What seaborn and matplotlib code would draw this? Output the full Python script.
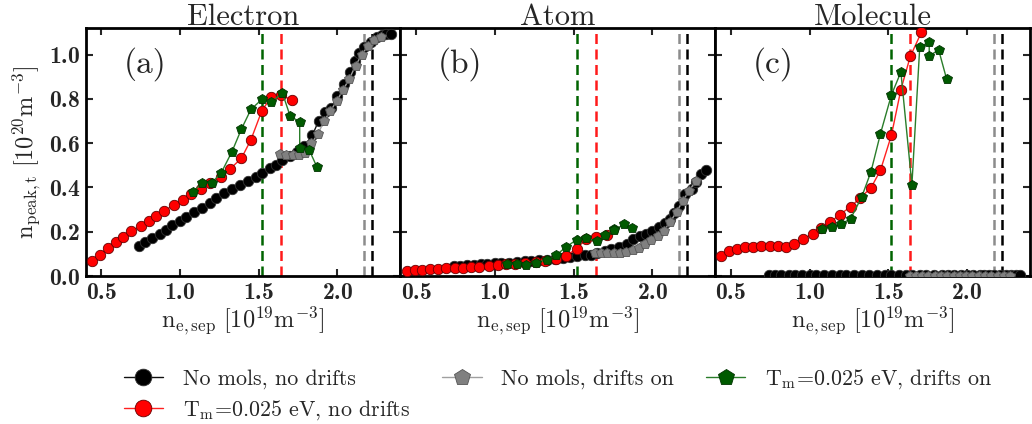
import matplotlib
matplotlib.use("Agg")
import matplotlib.pyplot as plt
import seaborn as sns

# ---- density scans: n_e,sep [1e19 m^-3] and peak target density [1e20 m^-3] ----
x_nomol_nodrift = [0.74, 0.78, 0.82, 0.87, 0.91, 0.95, 1.00, 1.04, 1.09, 1.14,
                   1.19, 1.23, 1.28, 1.33, 1.38, 1.43, 1.48, 1.52, 1.57, 1.61,
                   1.65, 1.70, 1.74, 1.79, 1.84, 1.88, 1.92, 1.96, 2.00, 2.04,
                   2.08, 2.11, 2.14, 2.17, 2.21, 2.25, 2.28, 2.31, 2.34]
electron_nomol_nodrift = [0.136, 0.155, 0.173, 0.192, 0.209, 0.229, 0.247, 0.267, 0.288, 0.308,
                          0.330, 0.353, 0.374, 0.394, 0.412, 0.430, 0.449, 0.467, 0.486, 0.503,
                          0.522, 0.540, 0.560, 0.588, 0.635, 0.700, 0.742, 0.757, 0.812, 0.868,
                          0.922, 0.972, 1.005, 1.035, 1.058, 1.078, 1.087, 1.091, 1.094]
atom_nomol_nodrift = [0.045, 0.047, 0.049, 0.051, 0.053, 0.055, 0.057, 0.059, 0.061, 0.063,
                      0.066, 0.068, 0.071, 0.074, 0.077, 0.080, 0.085, 0.089, 0.093, 0.097,
                      0.106, 0.112, 0.121, 0.130, 0.145, 0.168, 0.180, 0.189, 0.205, 0.220,
                      0.238, 0.258, 0.285, 0.318, 0.370, 0.394, 0.424, 0.460, 0.480]
molecule_nomol_nodrift = [0.003] * 39

x_mol_nodrift = [0.44, 0.49, 0.54, 0.59, 0.64, 0.69, 0.75, 0.80, 0.85, 0.90, 0.96, 1.02,
                 1.07, 1.13, 1.19, 1.26, 1.32, 1.39, 1.45, 1.52, 1.58, 1.64, 1.71]
electron_mol_nodrift = [0.067, 0.097, 0.126, 0.153, 0.177, 0.202, 0.224, 0.248, 0.271, 0.295,
                        0.320, 0.342, 0.370, 0.394, 0.421, 0.445, 0.485, 0.532, 0.615, 0.747,
                        0.809, 0.818, 0.795]
atom_mol_nodrift = [0.023, 0.026, 0.028, 0.030, 0.032, 0.034, 0.036, 0.038, 0.040, 0.043,
                    0.046, 0.050, 0.053, 0.056, 0.060, 0.065, 0.070, 0.076, 0.091, 0.123,
                    0.168, 0.176, 0.185]
molecule_mol_nodrift = [0.091, 0.114, 0.124, 0.130, 0.133, 0.135, 0.136, 0.136, 0.133, 0.145,
                        0.167, 0.191, 0.217, 0.242, 0.277, 0.312, 0.352, 0.398, 0.477, 0.636,
                        0.842, 0.992, 1.100]

x_nomol_drift = [1.635, 1.675, 1.715, 1.755, 1.795, 1.835, 1.875, 1.915, 1.955,
                 1.995, 2.035, 2.075, 2.115, 2.155, 2.195, 2.235, 2.275]
electron_nomol_drift = [0.550, 0.548, 0.547, 0.545, 0.555, 0.600, 0.640, 0.700, 0.745,
                        0.790, 0.840, 0.890, 0.950, 1.000, 1.040, 1.065, 1.080]
atom_nomol_drift = [0.103, 0.103, 0.103, 0.104, 0.106, 0.110, 0.117, 0.128, 0.143,
                    0.163, 0.180, 0.205, 0.245, 0.290, 0.340, 0.385, 0.428]
molecule_nomol_drift = [0.002] * 17

x_mol_drift = [1.08, 1.14, 1.20, 1.26, 1.33, 1.39, 1.45, 1.52, 1.58, 1.65,
               1.70, 1.76, 1.76, 1.82, 1.87]
electron_mol_drift = [0.380, 0.418, 0.421, 0.464, 0.562, 0.664, 0.752, 0.798, 0.785, 0.827,
                      0.721, 0.697, 0.578, 0.569, 0.492]
atom_mol_drift = [0.053, 0.053, 0.050, 0.061, 0.073, 0.094, 0.130, 0.164, 0.171, 0.158,
                  0.186, 0.212, 0.208, 0.233, 0.217]
molecule_mol_drift = [0.214, 0.221, 0.235, 0.258, 0.355, 0.471, 0.642, 0.818, 0.921, 0.412,
                      1.036, 1.055, 0.994, 1.021, 0.891]

# detachment onset densities for each case
onset_x = [1.52, 1.64, 2.17, 2.22]
onset_colors = ["#006400", "#ff1a1a", "#8c8c8c", "#000000"]

panel_titles = ["Electron", "Atom", "Molecule"]
panel_letters = ["(a)", "(b)", "(c)"]
series_labels = ["No mols, no drifts",
                 r"T$_\mathrm{m}$=0.025 eV, no drifts",
                 "No mols, drifts on",
                 r"T$_\mathrm{m}$=0.025 eV, drifts on"]
x_ticks = [0.5, 1.0, 1.5, 2.0]
y_ticks = [0.0, 0.2, 0.4, 0.6, 0.8, 1.0]

sns.set_theme(style="ticks")
plt.rcParams.update({
    "font.family": ["cmr10", "DejaVu Serif"],
    "mathtext.fontset": "cm",
    "axes.formatter.use_mathtext": True,
    "axes.unicode_minus": False,
})

styles = [
    dict(color="#111111", marker="o", markerfacecolor="black", markeredgecolor="#333333"),
    dict(color="#ff2020", marker="o", markerfacecolor="#ff0000", markeredgecolor="#660000"),
    dict(color="#a0a0a0", marker="p", markerfacecolor="#808080", markeredgecolor="#555555"),
    dict(color="#2a7d2a", marker="p", markerfacecolor="#005a00", markeredgecolor="#003300"),
]
xs = [x_nomol_nodrift, x_mol_nodrift, x_nomol_drift, x_mol_drift]
panels = [
    [electron_nomol_nodrift, electron_mol_nodrift, electron_nomol_drift, electron_mol_drift],
    [atom_nomol_nodrift, atom_mol_nodrift, atom_nomol_drift, atom_mol_drift],
    [molecule_nomol_nodrift, molecule_mol_nodrift, molecule_nomol_drift, molecule_mol_drift],
]

fig, axes = plt.subplots(1, 3, figsize=(10.32, 4.24), dpi=100, sharey=True)
fig.subplots_adjust(left=0.083, right=0.998, top=0.934, bottom=0.349, wspace=0)

for i, ax in enumerate(axes):
    for xv, c in zip(onset_x, onset_colors):
        ax.axvline(xv, color=c, lw=1.8, ls=(0, (4, 2.2)), zorder=1)
    for xv, yv, st, lab in zip(xs, panels[i], styles, series_labels):
        sns.lineplot(x=xv, y=yv, ax=ax, sort=False, estimator=None, lw=1.0,
                     markersize=7.5, markeredgewidth=0.6, label=lab, zorder=3, **st)
    ax.set_xlim(0.4, 2.4)
    ax.set_ylim(0, 1.12)
    ax.set_xticks(x_ticks)
    ax.set_yticks(y_ticks)
    ax.set_title(panel_titles[i], fontsize=22, pad=2)
    ax.set_xlabel(r"$\mathrm{n_{e,sep}\ [10^{19}m^{-3}]}$", fontsize=17.5, labelpad=1)
    ax.text(0.12, 0.855, panel_letters[i], transform=ax.transAxes, fontsize=24, va="center")
    ax.tick_params(direction="in", top=True, right=True, length=5, width=1.5,
                   labelsize=17, labelfontfamily="cmb10", pad=4)
    for s in ax.spines.values():
        s.set_linewidth(2)
        s.set_color("black")
    ax.get_legend().remove()

axes[0].set_ylabel(r"$\mathrm{n_{peak,t}\ [10^{20}m^{-3}]}$", fontsize=17.5, labelpad=3)
for ax in axes[1:]:
    ax.tick_params(labelleft=False)

handles, labels = axes[0].get_legend_handles_labels()
fig.legend(handles, labels, ncol=3, loc="upper center", bbox_to_anchor=(0.541, 0.18),
           frameon=False, fontsize=15.8, markerscale=1.6, handlelength=1.8,
           columnspacing=1.45, labelspacing=0.4, handletextpad=0.9)

fig.savefig("out.png", dpi=100)
